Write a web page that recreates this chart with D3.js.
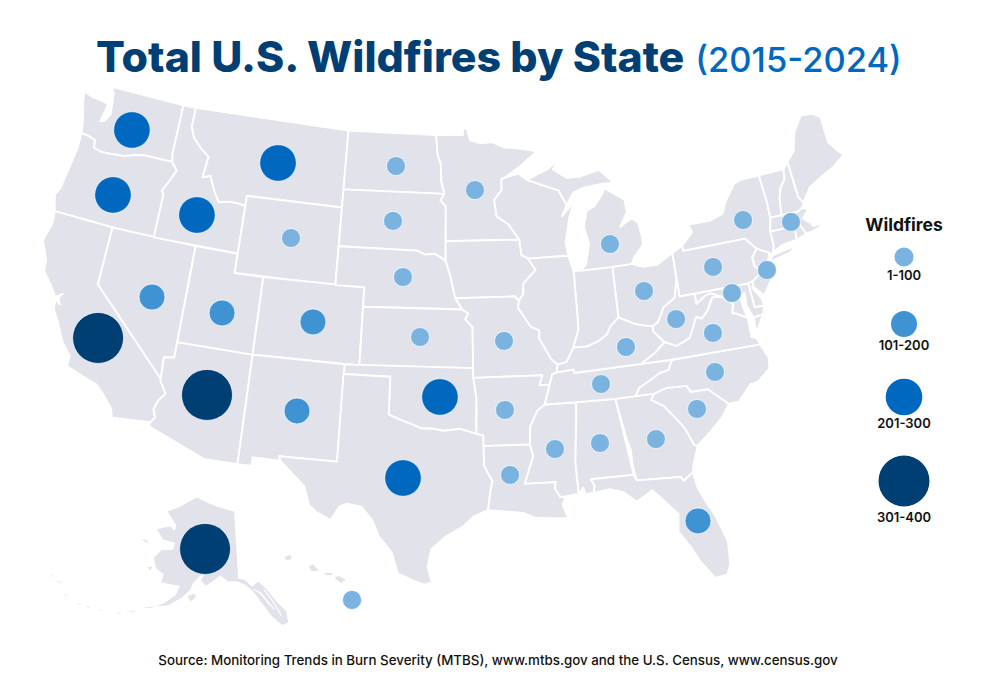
<!DOCTYPE html>
<html>
<head>
<meta charset="utf-8">
<script src="https://cdnjs.cloudflare.com/ajax/libs/d3/7.8.5/d3.min.js"></script>
<style>
html,body{margin:0;padding:0;background:#fff}
svg{display:block}
text{font-family:Inter,"Open Sans",sans-serif}
.state{fill:#e2e3ea;stroke:#fff;stroke-width:1.9;stroke-linejoin:round}
.island{fill:#e2e3ea;stroke:none}
.tiny{fill:#eceef2;stroke:none}
.cut{fill:none;stroke:#fff;stroke-width:1.2}
.bubble{stroke:#fff;stroke-width:1;stroke-opacity:.7}
</style>
</head>
<body>
<svg id="chart" width="997" height="688"></svg>
<script>
const width = 997, height = 688

const bins = ['1-100', '101-200', '201-300', '301-400']
const binColors = ['#7ab3e0', '#3f93d2', '#0069bf', '#003f74']
const binRadii = [9.5, 13, 18.3, 25.5]

// bubbles, one entry per state that has one
const fireStates = ['WA','OR','ID','MT','ND','MN','SD','WY','NE','CO','UT','NV','CA','AZ','NM','KS','OK','TX','MO','AR','LA','MS','AL','GA','SC','NC','VA','WV','KY','TN','OH','MI','NY','PA','MD','NJ','MA','FL']
const fireBins = ['201-300','201-300','201-300','201-300','1-100','1-100','1-100','1-100','1-100','101-200','101-200','101-200','301-400','301-400','101-200','1-100','201-300','201-300','1-100','1-100','1-100','1-100','1-100','1-100','1-100','1-100','1-100','1-100','1-100','1-100','1-100','1-100','1-100','1-100','1-100','1-100','1-100','101-200']
const fireSpots = [[-120.42,47.11],[-120.55,43.62],[-114.37,43.58],[-109.13,46.92],[-100.24,47.32],[-94.29,46.13],[-100.28,44.48],[-107.48,43.17],[-99.41,41.62],[-105.34,39.02],[-111.46,38.87],[-116.27,39],[-119.12,36.34],[-111.56,34.61],[-105.79,34.41],[-98.13,38.58],[-96.77,35.53],[-98.97,31.34],[-92.54,38.35],[-92.64,34.82],[-92.47,31.48],[-89.64,32.69],[-86.84,32.81],[-83.38,32.68],[-80.58,33.9],[-79.06,35.61],[-78.74,37.59],[-80.99,38.61],[-84.53,37.55],[-86.41,35.81],[-82.85,40.27],[-84.78,42.88],[-75.19,42.95],[-77.91,40.91],[-76.99,39.41],[-74.34,40.18],[-71.93,42.28],[-81.58,28.2]]
const alaskaFire = { bin: '301-400', spot: [-151.1,64.35] }
const hawaiiFire = { bin: '1-100', spot: [-155.63,19.63] }

// shared borders, lon/lat
const columbia = [[-124,46.25],[-123.4,46.2],[-122.9,46.1],[-122.8,45.7],[-122.2,45.6],[-121.2,45.65],[-120.5,45.7],[-119.6,45.92],[-119,46],[-116.92,46]]
const snake = [[-116.92,46],[-116.46,45.6],[-116.67,45.25],[-116.85,44.95],[-117.2,44.45],[-117.03,44.25],[-117.03,43.83]]
const lowerColorado = [[-114.63,35],[-114.6,34.85],[-114.14,34.3],[-114.5,33.9],[-114.7,33.4],[-114.5,33],[-114.72,32.72]]
const idMt = [[-116.05,49],[-116.05,48],[-115.7,47.45],[-114.95,46.95],[-114.35,46.65],[-114.5,45.55],[-113.95,45.7],[-113.45,44.95],[-113,44.45],[-112.3,44.55],[-111.5,44.55],[-111.05,44.48]]
const ndMn = [[-97.23,49],[-97.1,48],[-96.85,47.5],[-96.8,46.6],[-96.56,45.94]]
const sdMn = [[-96.56,45.94],[-96.85,45.6],[-96.45,45.3],[-96.45,43.5]]
const sdNe = [[-104.05,43],[-98.5,43],[-97.9,42.8],[-97.2,42.85],[-96.45,42.5]]
const neIa = [[-96.45,42.5],[-96.1,41.7],[-95.9,41],[-95.77,40.58],[-95.3,40]]
const ksMo = [[-95.3,40],[-94.9,39.8],[-95.1,39.5],[-94.62,39.1],[-94.62,37]]
const redRiver = [[-100,34.56],[-99.2,34.3],[-98.5,34.1],[-97.9,33.9],[-97.2,33.9],[-96.5,33.8],[-95.5,33.9],[-94.48,33.64]]
const mnWi = [[-92.05,46.72],[-92.3,46.65],[-92.3,46.1],[-92.88,45.6],[-92.75,44.75],[-91.9,44.3],[-91.2,43.5]]
const iaIl = [[-91.2,43.5],[-91.1,42.7],[-90.64,42.5],[-90.15,41.9],[-91.05,41.25],[-91.1,40.7],[-91.42,40.38]]
const moIl = [[-91.42,40.38],[-91.5,40],[-90.7,39],[-90.15,38.8],[-90.2,38.4],[-89.5,37.3],[-89.1,37]]
const msLow = [[-89.5,36.5],[-89.7,36],[-90.1,35],[-90.6,34.7],[-91.1,33.9],[-91.17,33]]
const msLa = [[-91.17,33],[-91,32.4],[-91.6,31],[-89.73,31],[-89.8,30.65],[-89.5,30.2]]
const msAl = [[-88.2,35],[-88.1,34.9],[-88.45,31.9],[-88.4,30.3]]
const alGa = [[-85.6,34.98],[-85.18,32.87],[-85,32.3],[-85,31]]
const gaSc = [[-83.1,35],[-83.35,34.7],[-82.6,34.3],[-81.9,33.5],[-81.5,33],[-81.1,32.1],[-80.9,32.03]]
const flNorth = [[-85,31],[-84.86,30.7],[-82.2,30.57],[-82.05,30.36],[-81.45,30.72]]
const scNc = [[-83.1,35],[-82.3,35.2],[-81,35.15],[-80.8,34.82],[-79.7,34.8],[-78.55,33.87]]
const tnNc = [[-84.32,35],[-84,35.4],[-83.3,35.7],[-82.6,36],[-82,36.1],[-81.68,36.59]]
const ohioLow = [[-89.1,37],[-88.5,37.1],[-88,37.8],[-87.1,37.8],[-86.3,38],[-85.7,38.3],[-85.4,38.7],[-84.8,39.1],[-84.3,38.9],[-83.7,38.65],[-82.6,38.42]]
const ohioUp = [[-82.6,38.42],[-82.2,38.6],[-81.7,39.3],[-80.85,39.7],[-80.52,40.64]]
const wvKy = [[-82.6,38.42],[-82.6,38.15],[-81.97,37.54]]
const wvVa = [[-81.97,37.54],[-81.25,37.25],[-80.3,37.55],[-79.65,38.55],[-79.3,38.42],[-78.85,38.75],[-78.35,39.4],[-77.75,39.33]]
const potomac = [[-77.75,39.33],[-77.5,39.15],[-77.05,38.85],[-77.25,38.4],[-76.9,38.3],[-76.3,38]]
const wvMd = [[-77.75,39.33],[-78.4,39.6],[-78.75,39.55],[-79.48,39.2],[-79.48,39.72]]
const ilIn = [[-87.52,41.7],[-87.53,39.3],[-87.55,38.7],[-88,37.8]]
const paNj = [[-74.7,41.36],[-75.13,40.97],[-75.1,40.5],[-74.72,40.15],[-75.42,39.8]]

const stateShapes = {
  WA: [[-122.76,49],[-122.5,48.7],[-122.4,48.2],[-122.3,47.6],[-122.6,47.2],[-122.9,47.1],[-122.75,47.7],[-122.7,48.1],[-123.2,48.15],[-124,48.2],[-124.7,48.38],[-124.6,47.9],[-124.2,47],...columbia,[-117.04,46.42],[-117.03,49]],
  OR: [[-124,46.25],[-123.95,45.5],[-124.1,44.5],[-124.3,43.2],[-124.55,42.84],[-124.2,42],[-120,42],[-117.03,42],...[...snake].reverse(),...[...columbia].reverse()],
  CA: [[-124.2,42],[-124.1,41.4],[-124.4,40.4],[-123.8,39.5],[-123.7,38.9],[-123,38.3],[-122.5,37.8],[-122.1,38.05],[-122.3,37.85],[-122.1,37.5],[-122.45,37.7],[-122.4,37.2],[-121.9,36.6],[-121.3,35.7],[-120.6,35.1],[-120.6,34.55],[-119.3,34.2],[-118.5,34],[-118.1,33.7],[-117.3,33],[-117.12,32.53],...[...lowerColorado].reverse(),[-120,39],[-120,42]],
  NV: [[-120,42],[-114.04,42],[-114.04,36.2],[-114.7,36.1],[-114.63,35],[-120,39]],
  AZ: [[-114.04,37],[-109.05,37],[-109.05,31.33],[-111.07,31.33],[-114.8,32.5],...[...lowerColorado].reverse(),[-114.7,36.1],[-114.04,36.2]],
  UT: [[-114.04,42],[-111.05,42],[-111.05,41],[-109.05,41],[-109.05,37],[-114.04,37]],
  ID: [[-117.03,49],...idMt,[-111.05,42],[-117.03,42],...[...snake].reverse(),[-117.04,46.42]],
  MT: [[-116.05,49],[-104.05,49],[-104.05,45],[-111.05,45],...[...idMt].reverse()],
  WY: [[-111.05,45],[-104.05,45],[-104.05,41],[-111.05,41]],
  CO: [[-109.05,41],[-102.05,41],[-102.05,37],[-109.05,37]],
  NM: [[-109.05,37],[-103,37],[-103.04,32],[-106.6,32],[-106.5,31.78],[-108.2,31.78],[-108.2,31.33],[-109.05,31.33]],
  ND: [[-104.05,49],...ndMn,[-104.05,45.94]],
  SD: [[-104.05,45.94],...sdMn,[-96.45,42.5],...[...sdNe].reverse()],
  NE: [...sdNe,...neIa,[-102.05,40],[-102.05,41],[-104.05,41]],
  KS: [[-102.05,40],...ksMo,[-102.05,37]],
  OK: [[-103,37],[-94.62,37],[-94.43,35.4],[-94.48,33.64],...[...redRiver].reverse(),[-100,36.5],[-103,36.5]],
  TX: [[-103.04,36.5],[-100,36.5],...redRiver,[-94.04,33.55],[-94.04,33],[-94.04,32],[-93.55,31.2],[-93.7,30.6],[-93.85,29.7],[-94.7,29.4],[-95.3,28.9],[-96.3,28.4],[-97.2,27.7],[-97.4,26.8],[-97.15,25.96],[-97.6,25.85],[-98.2,26.05],[-99.1,26.4],[-99.5,27.5],[-100.3,28.3],[-100.7,29.1],[-101.4,29.77],[-102.3,29.88],[-102.7,29.7],[-103.15,28.98],[-104,29.3],[-104.5,29.65],[-104.9,30.6],[-106.5,31.78],[-106.6,32],[-103.04,32]],
  MN: [[-97.23,49],[-95.15,49],[-95.15,49.38],[-94.82,49.3],[-94.6,48.72],[-93.8,48.55],[-92.9,48.6],[-92,48.3],[-90.8,48.2],[-89.5,48],[-90.8,47.3],...mnWi,[-96.45,43.5],...[...sdMn].reverse(),...[...ndMn].reverse()],
  WI: [[-92.05,46.72],[-91,46.9],[-90.4,46.55],[-89,46.15],[-88.1,45.9],[-87.6,45.1],[-88,44.55],[-87.05,45.25],[-87.5,44.4],[-87.9,43.2],[-87.8,42.5],[-90.64,42.5],[-91.1,42.7],[-91.2,43.5],...[...mnWi].reverse()],
  IA: [[-96.45,43.5],...iaIl,[-91.7,40.6],[-95.77,40.58],[-95.9,41],[-96.1,41.7],[-96.45,42.5]],
  MO: [[-95.77,40.58],[-91.7,40.6],...moIl,[-89.2,36.6],[-89.5,36.5],[-89.7,36],[-90.37,36],[-90.15,36.5],[-94.62,36.5],[-94.62,39.1],[-95.1,39.5],[-94.9,39.8],[-95.3,40]],
  AR: [[-94.62,36.5],[-90.15,36.5],[-90.37,36],[-89.7,36],...msLow.slice(2),[-94.04,33],[-94.04,33.55],[-94.48,33.64],[-94.43,35.4]],
  LA: [[-94.04,33],...msLa,[-89.2,30.2],[-89.4,29.8],[-89.15,29.1],[-90.1,29.15],[-91,29.2],[-91.8,29.5],[-92.3,29.55],[-93.85,29.7],[-93.7,30.6],[-93.55,31.2],[-94.04,32]],
  MS: [...msAl,[-89.5,30.2],...[...msLa].reverse(),...[...msLow.slice(2)].reverse()],
  AL: [...alGa,[-87.6,31],[-87.4,30.65],[-87.5,30.3],[-88,30.25],[-88.1,30.6],[-88.4,30.3],[-88.45,31.9],[-88.1,34.9],[-88.2,35]],
  GA: [...alGa.slice().reverse(),...flNorth.slice(1),[-81.3,31.2],[-80.9,32.03],...gaSc.slice().reverse().slice(1),[-85.6,34.98]],
  FL: [[-87.6,31],...flNorth,[-81.3,29.9],[-80.9,29],[-80.55,28.4],[-80.05,26.9],[-80.15,25.7],[-80.4,25.2],[-81.1,25.13],[-81.8,26.1],[-82.2,26.9],[-82.8,27.8],[-82.65,28.7],[-83.4,29.5],[-84,30.1],[-85,29.6],[-85.7,30.15],[-86.5,30.4],[-87.5,30.3],[-87.4,30.65]],
  SC: [...scNc,[-79.2,33.2],[-79.9,32.7],...[...gaSc].reverse().slice(0,-1)],
  NC: [[-84.32,35],...scNc,[-77.9,33.9],[-77,34.65],[-76.5,34.7],[-75.6,35.25],[-75.5,35.8],[-75.87,36.55],...[...tnNc].reverse()],
  TN: [[-90.1,35],[-88.2,35],[-85.6,34.98],...tnNc,[-83.68,36.6],[-88.07,36.5],[-88.07,36.68],[-89.2,36.6],[-89.5,36.5],[-89.7,36]],
  KY: [[-89.2,36.6],...ohioLow.slice(0),...wvKy.slice(1),[-82.7,37.05],[-83.68,36.6],[-88.07,36.5],[-88.07,36.68]],
  OH: [[-84.8,41.7],[-83.45,41.73],[-82.7,41.5],[-81.7,41.5],[-80.52,41.98],...[...ohioUp].reverse(),[-83.7,38.65],[-84.3,38.9],[-84.8,39.1]],
  IN: [[-87.52,41.7],[-87,41.68],[-84.8,41.7],[-84.8,39.1],[-85.4,38.7],[-85.7,38.3],[-86.3,38],[-87.1,37.8],[-88,37.8],[-87.55,38.7],[-87.53,39.3]],
  IL: [[-90.64,42.5],[-87.8,42.5],...ilIn,[-88.5,37.1],[-89.1,37],...[...moIl].reverse(),[-91.1,40.7],[-91.05,41.25],[-90.15,41.9]],
  MI: [[-87,41.68],[-84.8,41.7],[-83.45,41.73],[-83.15,42.1],[-82.5,42.6],[-82.45,43],[-82.6,43.8],[-83,44.05],[-83.9,43.7],[-83.3,44.4],[-83.35,45.05],[-84.7,45.77],[-85,45.4],[-85.6,44.9],[-86.2,44.7],[-86.5,43.9],[-86.25,43],[-86.6,42]],
  MIU: [[-90.4,46.55],[-89,46.15],[-88.1,45.9],[-87.6,45.1],[-87.05,45.7],[-86.3,45.9],[-85,46],[-84,46],[-84.6,46.5],[-85,46.75],[-86.5,46.5],[-87.4,46.5],[-88.4,47],[-87.9,47.47],[-88.9,47],[-89.6,46.8]],
  PA: [[-80.52,41.98],[-79.76,42.27],[-79.76,42],[-75.35,42],...paNj,[-75.79,39.72],[-80.52,39.72]],
  NY: [[-79.76,42],[-79.76,42.27],[-78.9,42.85],[-79.05,43.27],[-77.5,43.27],[-76.5,43.5],[-76.2,44],[-75.3,44.85],[-74.7,45],[-73.35,45],[-73.25,43.55],[-73.27,42.75],[-73.5,42.05],[-73.5,41.3],[-73.65,41],[-73.9,40.75],[-73.9,41],[-74.7,41.36],[-75.35,42]],
  NYL: [[-74,40.6],[-73.7,40.85],[-72.6,40.98],[-72,41.08],[-72.5,40.78],[-73.9,40.57]],
  VT: [[-73.35,45],[-71.5,45],[-71.6,44.5],[-72.05,44.1],[-72.3,43.6],[-72.46,42.73],[-73.27,42.75],[-73.25,43.55]],
  NH: [[-71.5,45],[-71.08,45.3],[-70.98,43.4],[-70.72,43.07],[-70.85,42.87],[-71.3,42.7],[-72.46,42.73],[-72.3,43.6],[-72.05,44.1],[-71.6,44.5]],
  ME: [[-71.08,45.3],[-70.4,45.8],[-70.25,46.2],[-70,46.7],[-69.2,47.45],[-68.3,47.35],[-67.8,47.07],[-67.8,45.7],[-67.45,45.3],[-67,44.85],[-68,44.4],[-69,44.1],[-70,43.75],[-70.72,43.07],[-70.98,43.4]],
  MA: [[-73.5,42.05],[-73.27,42.75],[-72.46,42.73],[-71.3,42.7],[-70.85,42.87],[-70.6,42.65],[-71.05,42.3],[-70.6,41.95],[-70.5,41.78],[-70,41.8],[-70.2,42.07],[-69.95,41.67],[-70.65,41.53],[-71.12,41.5],[-71.38,42.02],[-71.8,42.02]],
  RI: [[-71.8,42.02],[-71.38,42.02],[-71.12,41.5],[-71.85,41.32]],
  CT: [[-73.5,42.05],[-71.8,42.02],[-71.85,41.32],[-72.9,41.25],[-73.65,41],[-73.5,41.3]],
  NJ: [[-74.7,41.36],[-73.9,41],[-74.25,40.45],[-74,40.4],[-74.1,39.75],[-74.9,38.95],[-75.5,39.5],[-75.42,39.8],[-74.72,40.15],[-75.1,40.5],[-75.13,40.97]],
  DE: [[-75.79,39.72],[-75.42,39.8],[-75.58,39.45],[-75.1,38.8],[-75.05,38.45],[-75.7,38.46]],
  MD: [[-79.48,39.72],[-75.79,39.72],[-75.7,38.46],[-75.05,38.45],[-75.25,38.03],[-75.9,37.95],[-76.2,38.6],[-76.15,39.3],[-76.55,39.2],[-76.4,38.4],...[...potomac].reverse(),...wvMd.slice(1)],
  VA: [[-83.68,36.6],[-81.68,36.59],[-75.87,36.55],[-76,36.9],[-76.3,37],...[...potomac].reverse(),...[...wvVa].reverse(),[-82.7,37.05]],
  VAE: [[-75.9,37.95],[-75.25,38.03],[-75.95,37.15]],
  WV: [[-80.52,40.64],[-80.52,39.72],[-79.48,39.72],...[...wvMd].reverse(),...[...wvVa].reverse().slice(1),...[...wvKy].reverse().slice(1),...ohioUp.slice(1)]
}

const alaskaShape = [[-141,69.65],[-144,70],[-148,70.4],[-152,70.85],[-156.5,71.35],[-160,70.4],[-163,69.4],[-166.5,68.4],[-164,67.6],[-162,66.9],[-162,66.1],[-164,66.5],[-168,65.6],[-165,64.5],[-161,64.5],[-161,63.5],[-164.5,63],[-166,61.7],[-164.5,60.4],[-162,59.9],[-162,58.7],[-158,58.8],[-157,58.8],[-157.5,57.5],[-160,56],[-163,54.9],[-164.8,54.6],[-162,55.3],[-159,55.8],[-156,57.2],[-154,58.5],[-153.5,59.5],[-152,60.5],[-150,61.2],[-151.5,60],[-150,59.3],[-148,60],[-146,60.8],[-144,60],[-141,59.9],[-139,59.3],[-137,58.2],[-135.5,56.7],[-133.5,54.6],[-131.5,53.1],[-130,53.2],[-129.8,54.8],[-131.5,56.2],[-133.5,58.3],[-135.5,59.6],[-137.5,59],[-139,60],[-141,60.3]]
const alaskaCuts = [
  [[-135.8,58.2],[-134.2,57],[-132.6,55.4]],
  [[-134.3,58.4],[-132.6,56.6],[-131.2,54.4]],
  [[-137,58.6],[-135.2,57.9],[-133.6,56.2]]
]
const alaskaIslands = [
  [[-154.5,57.5],[-153,58],[-152.2,57.7],[-153.5,56.9]],
  [[-167,60.2],[-165.6,60.4],[-165.8,59.9]],
  [[-171.5,63.5],[-169,63.3],[-170,63.7]]
]
const aleutians = [
  [[-168,53.5],[-166,54],[-166.6,53.5]],
  [[-170.5,52.7],[-169,53],[-169.5,52.7]],
  [[-174.5,52.2],[-173,52.3],[-173.5,52.1]],
  [[-177.5,51.8],[-176,52],[-176.5,51.7]],
  [[-179.5,51.5],[-178,51.8],[-178.5,51.5]],
  [[-183,51.7],[-181.5,51.9],[-182,51.6]],
  [[-186,52.7],[-184.5,52.9],[-185,52.6]],
  [[-188,52.9],[-186.8,53],[-187,52.8]]
]
const hawaiiShapes = [
  [[-159.75,22.1],[-159.4,22.23],[-159.3,22],[-159.6,21.9]],
  [[-158.25,21.55],[-158,21.7],[-157.65,21.3],[-158.1,21.3]],
  [[-157.3,21.2],[-156.75,21.17],[-156.9,21.05],[-157.25,21.08]],
  [[-156.7,20.95],[-156.4,21],[-156,20.8],[-156.3,20.6],[-156.55,20.8]],
  [[-155.85,20.2],[-155.5,20.05],[-154.95,19.55],[-155.6,19.05],[-155.95,19.7]]
]

const lower48 = d3.geoAlbers().scale(1110).translate([443, 335])
const alaska = d3.geoConicEqualArea().rotate([145, 0]).center([0, 58.5]).parallels([55, 65]).scale(412).translate([224, 592])
const hawaii = d3.geoConicEqualArea().rotate([157, 0]).center([-3, 19.9]).parallels([8, 18]).scale(1000).translate([280, 595])

const color = d3.scaleOrdinal().domain(bins).range(binColors)
const radius = d3.scaleOrdinal().domain(bins).range(binRadii)

const outline = proj => d3.line().x(d => proj(d)[0]).y(d => proj(d)[1]).curve(d3.curveLinearClosed)
const openLine = proj => d3.line().x(d => proj(d)[0]).y(d => proj(d)[1])

const svg = d3.select('#chart')

svg.append('g').selectAll('path')
  .data(Object.entries(stateShapes))
  .enter().append('path')
  .attr('class', 'state')
  .attr('id', d => d[0])
  .attr('d', d => outline(lower48)(d[1]))

svg.append('path').datum(alaskaShape).attr('class', 'island').attr('d', outline(alaska))
svg.append('g').selectAll('path').data(alaskaCuts).enter().append('path').attr('class', 'cut').attr('d', openLine(alaska))
svg.append('g').selectAll('path').data(alaskaIslands).enter().append('path').attr('class', 'island').attr('d', outline(alaska))
svg.append('g').selectAll('path').data(aleutians).enter().append('path').attr('class', 'tiny').attr('d', outline(alaska))
svg.append('g').selectAll('path').data(hawaiiShapes).enter().append('path').attr('class', 'island').attr('d', outline(hawaii))

// bubbles
const bubbles = fireStates.map((s, i) => ({ state: s, bin: fireBins[i], xy: lower48(fireSpots[i]) }))
bubbles.push({ state: 'AK', bin: alaskaFire.bin, xy: alaska(alaskaFire.spot) })
bubbles.push({ state: 'HI', bin: hawaiiFire.bin, xy: hawaii(hawaiiFire.spot) })

svg.append('g').selectAll('circle')
  .data(bubbles)
  .enter().append('circle')
  .attr('class', 'bubble')
  .attr('cx', d => d.xy[0])
  .attr('cy', d => d.xy[1])
  .attr('r', d => radius(d.bin))
  .attr('fill', d => color(d.bin))

// title
const title = svg.append('text').attr('x', 96).attr('y', 72)
title.append('tspan').attr('fill', '#003f74').attr('font-size', 42.8).attr('font-weight', 800).text('Total U.S. Wildfires by State')
title.append('tspan').attr('fill', '#0069bf').attr('font-size', 34.5).attr('font-weight', 500).attr('dx', 11).text('(2015-2024)')

// legend
const legendX = 904
const legendCy = [257, 324, 397, 481]
const legendLabelY = [280, 350, 428, 522]
svg.append('text').attr('x', legendX).attr('y', 231).attr('text-anchor', 'middle').attr('font-size', 17.5).attr('font-weight', 700).attr('fill', '#111').text('Wildfires')
svg.append('g').selectAll('circle').data(bins).enter().append('circle').attr('cx', legendX).attr('cy', (d, i) => legendCy[i]).attr('r', d => radius(d)).attr('fill', d => color(d))
svg.append('g').selectAll('text').data(bins).enter().append('text').attr('x', legendX).attr('y', (d, i) => legendLabelY[i]).attr('text-anchor', 'middle').attr('font-size', 13).attr('font-weight', 600).attr('fill', '#111').text(d => d)

svg.append('text').attr('x', 498).attr('y', 665).attr('text-anchor', 'middle').attr('font-size', 13.35).attr('font-weight', 500).attr('fill', '#111')
  .text('Source: Monitoring Trends in Burn Severity (MTBS), www.mtbs.gov and the U.S. Census, www.census.gov')
</script>
</body>
</html>
